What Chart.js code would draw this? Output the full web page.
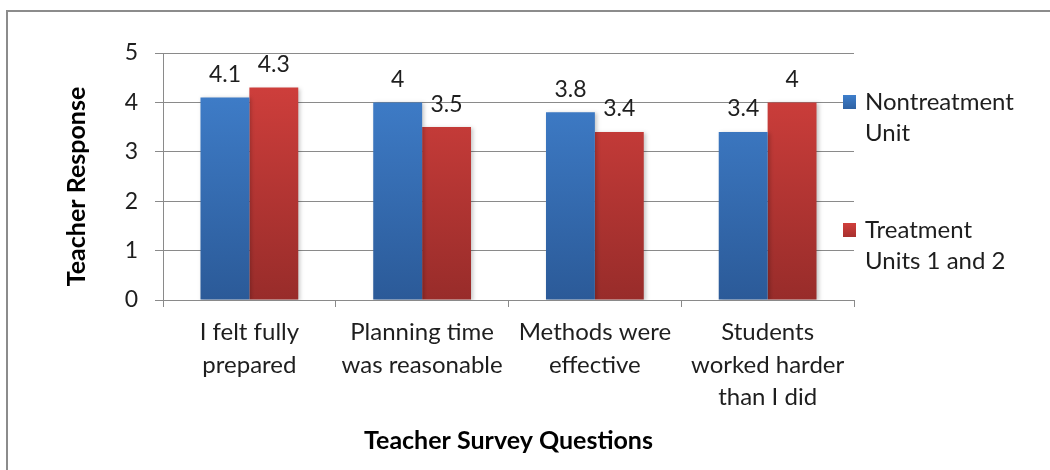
<!DOCTYPE html>
<html>
<head>
<meta charset="utf-8">
<script src="https://cdn.jsdelivr.net/npm/chart.js@4/dist/chart.umd.min.js"></script>
<style>
  html, body { margin: 0; padding: 0; background: #fff; overflow: hidden; }
  #wrap { position: relative; width: 1050px; height: 470px; }
  #frame { position: absolute; left: 6px; top: 10px; width: 1100px; height: 520px; border: 2px solid #8c8c8c; box-sizing: border-box; }
  #c { position: absolute; left: 0; top: 0; }
</style>
</head>
<body>
<div id="wrap">
  <div id="frame"></div>
  <canvas id="c" width="1050" height="470"></canvas>
</div>
<script>
// ---- data ----
const categories = [
  ['I felt fully', 'prepared'],
  ['Planning time', 'was reasonable'],
  ['Methods were', 'effective'],
  ['Students', 'worked harder', 'than I did']
];
const nontreatment = [4.1, 4.0, 3.8, 3.4];
const treatment = [4.3, 3.5, 3.4, 4.0];
const seriesNames = ['Nontreatment Unit', 'Treatment Units 1 and 2'];
const legendLines = [['Nontreatment', 'Unit'], ['Treatment', 'Units 1 and 2']];
const yTicks = [0, 1, 2, 3, 4, 5];
const xTitle = 'Teacher Survey Questions';
const yTitle = 'Teacher Response';

const FONT = 'Lato, "Open Sans", sans-serif';
const TXT = '#1e1e1e';
const GRID = '#8a8a8a';

function grad(ctx, area, top, bottom) {
  const g = ctx.createLinearGradient(0, area.top, 0, area.bottom);
  g.addColorStop(0, top);
  g.addColorStop(1, bottom);
  return g;
}

const labelPlugin = {
  id: 'extras',
  beforeDatasetsDraw(chart) {
    const ctx = chart.ctx;
    ctx.save();
    ctx.shadowColor = 'rgba(0,0,0,0.22)';
    ctx.shadowBlur = 4;
    ctx.shadowOffsetX = 2;
    ctx.shadowOffsetY = 1;
  },
  afterDatasetsDraw(chart) {
    const ctx = chart.ctx;
    ctx.restore();
    ctx.save();
    ctx.font = '23px ' + FONT;
    ctx.fillStyle = TXT;
    ctx.textAlign = 'center';
    ctx.textBaseline = 'middle';
    chart.data.datasets.forEach((ds, di) => {
      const meta = chart.getDatasetMeta(di);
      meta.data.forEach((bar, i) => {
        ctx.fillText(String(ds.data[i]), bar.x, bar.y - 23);
      });
    });
    ctx.restore();
  },
  afterDraw(chart) {
    const ctx = chart.ctx;
    const area = chart.chartArea;
    ctx.save();
    // y axis title
    ctx.font = 'bold 25px ' + FONT;
    ctx.fillStyle = '#000';
    ctx.textAlign = 'center';
    ctx.textBaseline = 'middle';
    ctx.translate(77, (area.top + area.bottom) / 2 + 10);
    ctx.rotate(-Math.PI / 2);
    ctx.fillText(yTitle, 0, 0);
    ctx.restore();

    // legend
    ctx.save();
    const colorsTop = ['#3e7ecb', '#d03f3c'];
    const colorsBot = ['#2f62a3', '#a8302e'];
    const ys = [102, 230];
    ctx.font = '24px ' + FONT;
    ctx.textAlign = 'left';
    ctx.textBaseline = 'middle';
    legendLines.forEach((lines, i) => {
      const y = ys[i];
      const g = ctx.createLinearGradient(0, y - 7, 0, y + 7);
      g.addColorStop(0, colorsTop[i]);
      g.addColorStop(1, colorsBot[i]);
      ctx.fillStyle = g;
      ctx.fillRect(843, y - 7, 13, 14);
      ctx.fillStyle = TXT;
      lines.forEach((t, k) => ctx.fillText(t, 865, y + k * 31));
    });
    ctx.restore();
  }
};

new Chart(document.getElementById('c'), {
  type: 'bar',
  data: {
    labels: categories,
    datasets: [
      {
        label: seriesNames[0],
        data: nontreatment,
        backgroundColor: (c) => {
          const a = c.chart.chartArea;
          if (!a) return '#3a76c2';
          return grad(c.chart.ctx, a, '#4283d1', '#2b5a98');
        },
        borderWidth: 0,
        categoryPercentage: 0.566,
        barPercentage: 1.0
      },
      {
        label: seriesNames[1],
        data: treatment,
        backgroundColor: (c) => {
          const a = c.chart.chartArea;
          if (!a) return '#c53a37';
          return grad(c.chart.ctx, a, '#d6413e', '#982c2a');
        },
        borderWidth: 0,
        categoryPercentage: 0.566,
        barPercentage: 1.0
      }
    ]
  },
  options: {
    responsive: false,
    devicePixelRatio: 1,
    animation: false,
    layout: { padding: { top: 53, right: 196, left: 0, bottom: 0 } },
    plugins: {
      legend: { display: false },
      tooltip: { enabled: false },
      title: { display: false }
    },
    scales: {
      x: {
        afterFit(scale) { scale.height = 170; },
        grid: {
          display: true,
          drawOnChartArea: false,
          drawTicks: true,
          tickLength: 7,
          color: GRID,
          offset: true
        },
        border: { display: true, color: GRID, width: 1 },
        ticks: {
          color: TXT,
          font: { family: FONT, size: 24, lineHeight: 1.36 },
          padding: 9,
          maxRotation: 0,
          autoSkip: false
        },
        title: {
          display: true,
          text: xTitle,
          color: '#000',
          font: { family: FONT, size: 25, weight: 'bold', lineHeight: 1.2 },
          padding: { top: 0, bottom: 14 }
        }
      },
      y: {
        afterFit(scale) { scale.width = 163; },
        min: yTicks[0],
        max: yTicks[yTicks.length - 1],
        afterBuildTicks(scale) { scale.ticks = yTicks.map(v => ({ value: v })); },
        grid: {
          color: GRID,
          drawTicks: true,
          tickLength: 8
        },
        border: { display: true, color: GRID, width: 1 },
        ticks: {
          color: TXT,
          font: { family: FONT, size: 23 },
          padding: 17
        }
      }
    }
  },
  plugins: [labelPlugin]
});
</script>
</body>
</html>
